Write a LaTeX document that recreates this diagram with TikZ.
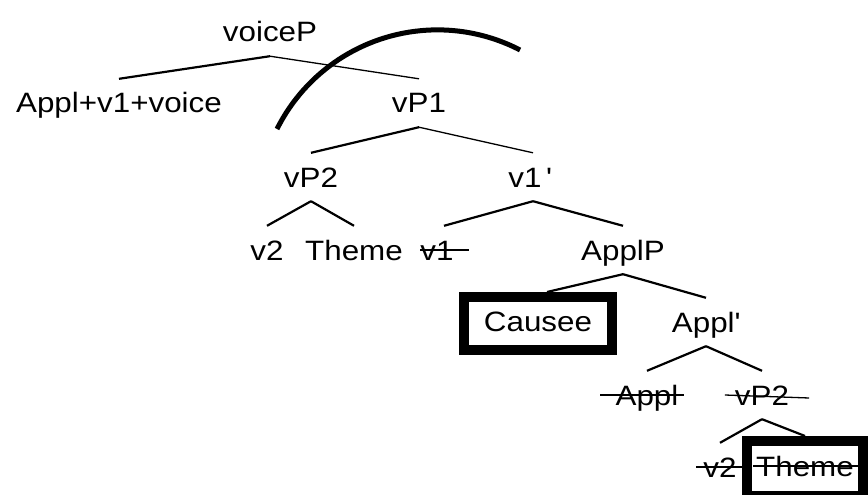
\documentclass[tikz,border=0pt]{standalone}
\usepackage{fontspec}
\setmainfont{Liberation Sans}[FakeStretch=1.12]
\usepackage{tikz}
\usetikzlibrary{positioning,calc}

\begin{document}
\begin{tikzpicture}[
  x=1pt, y=-1pt,
  font=\fontsize{28}{34}\selectfont,
  cat/.style={
    inner xsep=0pt,
    inner ysep=14pt,
    text height=20pt,
    text depth=0pt
  },
  boxcat/.style={
    draw=black,
    line width=10pt,
    text height=20pt,
    text depth=5pt
  },
  branch/.style={
    line width=2.2pt,
    draw=black
  },
  thinbranch/.style={
    line width=1.3pt,
    draw=black
  },
  strikeout/.style={
    line width=1.3pt,
    draw=black
  },
  movearc/.style={
    line width=5pt,
    draw=black
  }
]
  \useasboundingbox (0,0) rectangle (868,495);

  % --- top of the tree ---
  \node[cat] (voicep) at (270,32) {voiceP};
  \node[cat] (head) at (119,103) {Appl+v1+voice};
  \node[cat] (vp1) at (419,103) {vP1};

  % --- vP1 level ---
  \node[cat] (vp2) at (311,177) {vP2};
  \node[cat] (v1bar) at (530,177) {v1\,\textquotesingle};

  \node[cat] (v2) at (267,250) {v2};
  \node[cat] (theme) at (354,250) {Theme};
  \node[cat] (v1) at (437,250) {v1};
  \node[cat] (applp) at (623,250) {ApplP};

  % --- ApplP level ---
  \node[boxcat, inner xsep=20pt, inner ysep=14pt] (causee) at (538,323.5) {Causee};
  \node[cat] (applbar) at (706,322) {Appl\textquotesingle};

  \node[cat] (appl) at (647,395) {Appl};
  \node[cat] (vp2low) at (762,395) {vP2};

  \node[cat] (v2low) at (720,467) {v2};
  \node[boxcat, inner xsep=9pt, inner ysep=15pt] (themelow) at (805,468.5) {Theme};

  % Branches
  \draw[branch] (voicep.south) -- (head.north);
  \draw[thinbranch] (voicep.south) -- (vp1.north);
  \draw[branch] (vp1.south) -- (vp2.north);
  \draw[thinbranch] (vp1.south) -- ([xshift=3pt]v1bar.north);
  \draw[branch] (vp2.south) -- (v2.north);
  \draw[branch] (vp2.south) -- (theme.north);
  \draw[branch] ([xshift=3pt]v1bar.south) -- ([xshift=7pt]v1.north);
  \draw[branch] ([xshift=3pt]v1bar.south) -- (applp.north);
  \draw[branch] (applp.south) -- ([xshift=9pt]causee.north);
  \draw[branch] (applp.south) -- (applbar.north);
  \draw[branch] (applbar.south) -- (appl.north);
  \draw[branch] (applbar.south) -- (vp2low.north);
  \draw[branch] (vp2low.south) -- (v2low.north);
  \draw[branch] (vp2low.south) -- (themelow.north);

  % Deleted copies
  \draw[strikeout] (v1.west) -- ([xshift=15pt]v1.east);
  \draw[strikeout] ([xshift=-15pt]appl.west) -- ([xshift=5pt]appl.east);
  \draw[strikeout] ([xshift=-10pt]vp2low.west) -- ([xshift=20pt,yshift=-3pt]vp2low.east);
  \draw[strikeout] ([xshift=-7pt]v2low.west) -- ([xshift=6pt]v2low.east);
  \draw[strikeout] ([xshift=11pt,yshift=2.5pt]themelow.west) -- ([yshift=2.5pt]themelow.east);

  % Movement arc
  \coordinate (arcstart) at (277,129);
  \draw[movearc] (arcstart) arc[start angle=206.6, end angle=297.4, radius=179.5];

\end{tikzpicture}
\end{document}
